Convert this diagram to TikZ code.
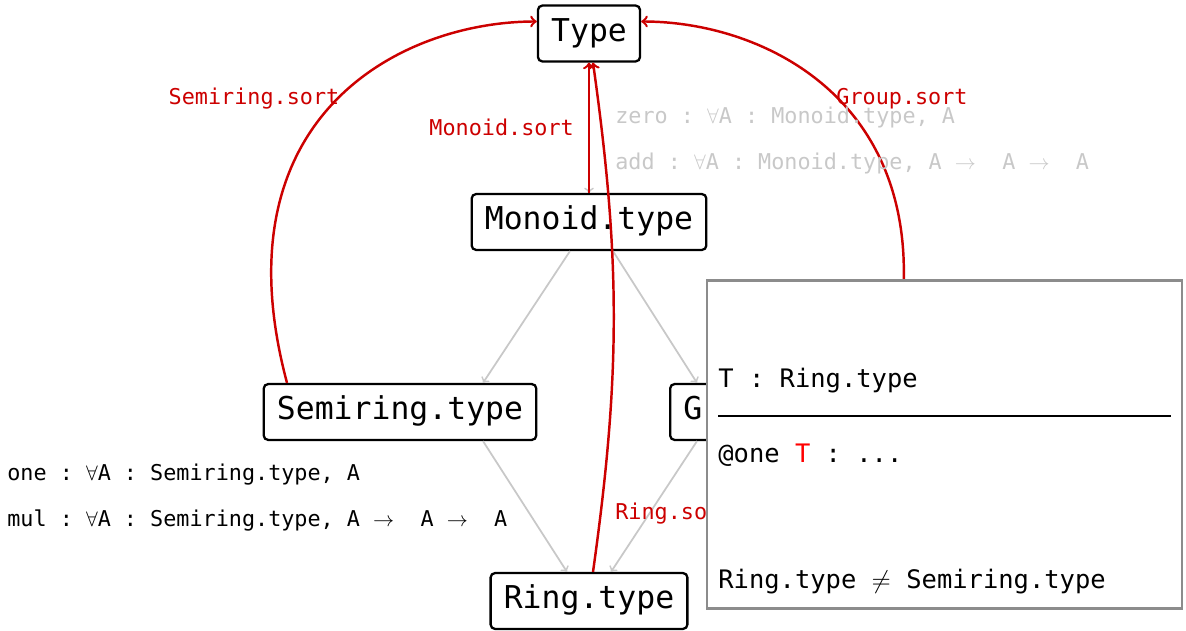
\documentclass[tikz,border=0pt]{standalone}
\usepackage{fontspec}
\setmonofont{DejaVu Sans Mono}
\usepackage{amsmath,amssymb}
\usepackage{tikz}

\definecolor{sortred}{RGB}{204,0,0}
\definecolor{faint}{RGB}{200,200,200}
\definecolor{popgray}{RGB}{140,140,140}

\begin{document}
\begin{tikzpicture}[x=0.02cm, y=-0.02cm,
    cls/.style={draw, fill=white, rounded corners=2.5pt, line width=1.3pt, inner xsep=7.5pt, inner ysep=0pt,
      minimum height=31.8pt, text height=13pt, text depth=4pt, font=\ttfamily\fontsize{17.9}{20}\selectfont},
    sub/.style={->, faint, line width=1pt},
    sort/.style={->, sortred, line width=1.4pt},
    sortlbl/.style={text=sortred, inner sep=0, font=\ttfamily\fontsize{12.4}{14}\selectfont},
    decl/.style={anchor=west, inner sep=0, font=\ttfamily\fontsize{12.4}{14}\selectfont},
    popup/.style={draw=popgray, fill=white, line width=1.2pt, minimum width=270.7pt, minimum height=186.7pt},
    poptxt/.style={anchor=west, inner sep=0, font=\ttfamily\fontsize{14.5}{17}\selectfont}]
  \useasboundingbox (0,0) rectangle (1186,631);

  % structures
  \node[cls] (Type) at (589,33.5) {Type};
  \node[cls] (Monoid) at (589,222) {Monoid.type};
  \node[cls] (Semiring) at (400,412) {Semiring.type};
  \node[cls] (Group) at (778,412) {Group.type};
  \node[cls] (Ring) at (589,601) {Ring.type};

  % coercions between structures
  \draw[sub] (Type) -- (Monoid);
  \draw[sub] ([xshift=-0.38cm]Monoid.south) -- ([xshift=1.66cm]Semiring.north);
  \draw[sub] ([xshift=0.48cm]Monoid.south) -- ([xshift=-1.62cm]Group.north);
  \draw[sub] ([xshift=1.66cm]Semiring.south) -- ([xshift=-0.44cm]Ring.north);
  \draw[sub] ([xshift=-1.62cm]Group.south) -- ([xshift=0.44cm]Ring.north);

  % sort projections
  \draw[sort] (Monoid) -- (Type) node[sortlbl, midway, left=0.28cm] {Monoid.sort};
  \draw[sort] ([xshift=-2.26cm]Semiring.north) to[out=105, in=180, out looseness=1.6, in looseness=0.8] ([yshift=0.24cm]Type.west);
  \draw[sort] ([xshift=2.2cm]Group.north) to[out=75, in=0, out looseness=1.6, in looseness=0.8] ([yshift=0.24cm]Type.east);
  \draw[sort] ([xshift=0.08cm]Ring.north) to[bend right=8] ([xshift=0.08cm]Type.south);

  \node[sortlbl] (lblSemiring) at (254,99) {Semiring.sort};
  \node[sortlbl] (lblGroup) at (902,99) {Group.sort};
  \node[sortlbl, anchor=west] (lblRing) at (615,514) {Ring.sort};

  % fields
  \node[decl, text=faint] (zero) at (615,117) {zero : $\forall$A : Monoid.type, A};
  \node[decl, text=faint] (add) at (615,163) {add : $\forall$A : Monoid.type, A $\to$~ A $\to$~ A};
  \node[decl] (one) at (7,475) {one : $\forall$A : Semiring.type, A};
  \node[decl] (mul) at (7,521) {mul : $\forall$A : Semiring.type, A $\to$~ A $\to$~ A};

  % elaboration box
  \node[popup] (popup) at (944.5,444.5) {};
  \node[poptxt] (goal) at (718,381) {T : Ring.type};
  \draw[line width=1.6pt] (718,416) -- (1171,416);
  \node[poptxt] (app) at (718,455) {@one \textcolor{red}{T} : ...};
  \node[poptxt] (neq) at (718,582) {Ring.type $\neq$ Semiring.type};
\end{tikzpicture}
\end{document}
